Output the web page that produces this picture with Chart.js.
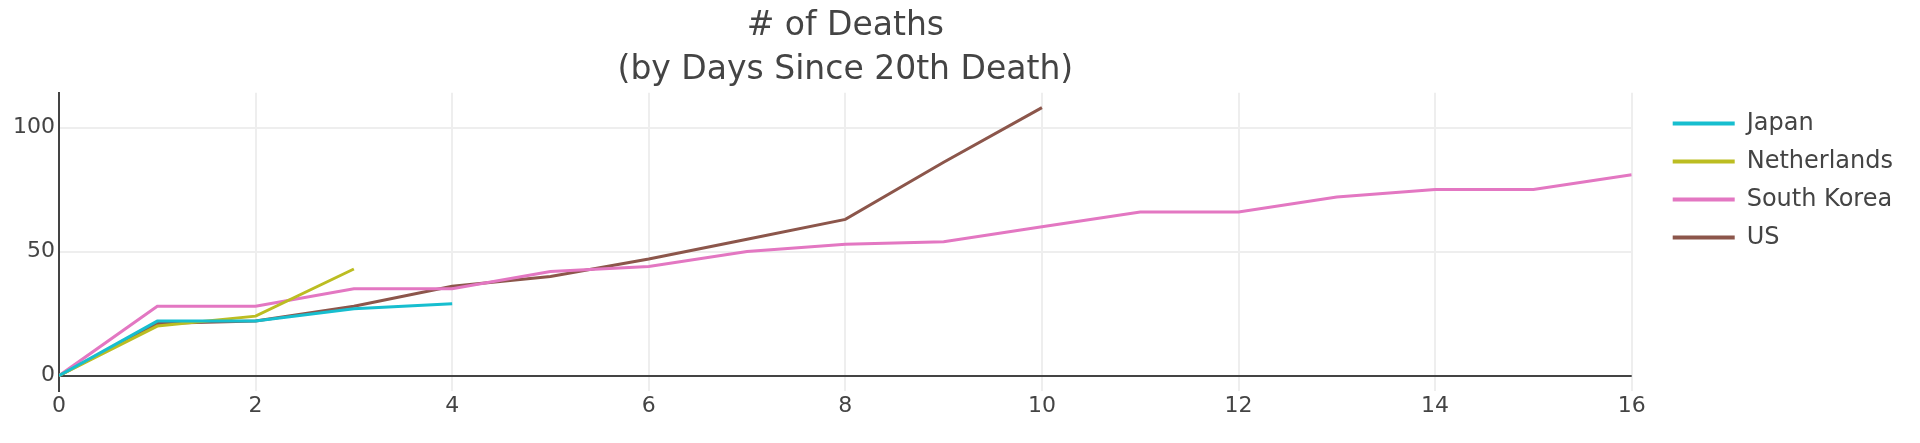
<!DOCTYPE html>
<html>
<head>
<meta charset="utf-8">
<script src="https://cdn.jsdelivr.net/npm/chart.js@4"></script>
<style>
  body { margin: 0; background: #fff; }
  .chart-box { width: 1920px; height: 443px; }
</style>
</head>
<body>
<div class="chart-box"><canvas id="chart-deaths"></canvas></div>
<script>
const days = [0, 1, 2, 3, 4, 5, 6, 7, 8, 9, 10, 11, 12, 13, 14, 15, 16];
const japan = [0, 22, 22, 27, 29];
const netherlands = [0, 20, 24, 43];
const southKorea = [0, 28, 28, 35, 35, 42, 44, 50, 53, 54, 60, 66, 66, 72, 75, 75, 81];
const us = [0, 21, 22, 28, 36, 40, 47, 55, 63, 86, 108];
const xTicks = [0, 2, 4, 6, 8, 10, 12, 14, 16];
const yTicks = [0, 50, 100];

const textColor = "#444";
const fontFamily = "'DejaVu Sans', Verdana, sans-serif";

function toPoints(values) {
    return values.map((v, i) => ({ x: days[i], y: v }));
}

const series = [
    { label: "Japan", values: japan, color: "#17becf" },
    { label: "Netherlands", values: netherlands, color: "#bcbd22" },
    { label: "South Korea", values: southKorea, color: "#e377c2" },
    { label: "US", values: us, color: "#8c564b" },
];

const ctx = document.getElementById("chart-deaths").getContext("2d");
new Chart(ctx, {
    type: "line",
    data: {
        datasets: series.map((s) => ({
            label: s.label,
            data: toPoints(s.values),
            borderColor: s.color,
            backgroundColor: s.color,
            borderWidth: 3,
            pointRadius: 0,
            tension: 0,
        })),
    },
    options: {
        responsive: true,
        maintainAspectRatio: false,
        animation: false,
        layout: { padding: { left: 0, right: 17, top: 0, bottom: 22 } },
        plugins: {
            title: {
                display: true,
                fullSize: false,
                text: ["# of Deaths", "(by Days Since 20th Death)"],
                color: textColor,
                font: { family: fontFamily, size: 33, weight: "normal", lineHeight: 1.345 },
                padding: { top: 4, bottom: 0 },
            },
            legend: {
                position: "right",
                align: "start",
                fullSize: false,
                // blank title just pushes the items down a little
                title: { display: true, text: " ", padding: 0, font: { size: 4 } },
                labels: {
                    color: textColor,
                    font: { family: fontFamily, size: 24 },
                    boxWidth: 62,
                    boxHeight: 4,
                    padding: 14,
                    generateLabels: (chart) =>
                        Chart.defaults.plugins.legend.labels
                            .generateLabels(chart)
                            .map((item) => ({ ...item, fillStyle: item.strokeStyle, lineWidth: 0 })),
                },
            },
            tooltip: { enabled: false },
        },
        scales: {
            x: {
                type: "linear",
                min: 0,
                max: 16,
                afterBuildTicks: (scale) => {
                    scale.ticks = xTicks.map((v) => ({ value: v }));
                },
                grid: { color: "#eee", lineWidth: 2, drawTicks: false },
                border: { display: false },
                ticks: {
                    color: textColor,
                    font: { family: fontFamily, size: 22 },
                    padding: 2,
                    maxRotation: 0,
                },
            },
            y: {
                type: "linear",
                min: -6,
                max: 114,
                afterBuildTicks: (scale) => {
                    scale.ticks = yTicks.map((v) => ({ value: v }));
                },
                afterFit: (scale) => {
                    scale.width = 59;
                },
                grid: {
                    color: (c) => (c.tick && c.tick.value === 0 ? "#444" : "#eee"),
                    lineWidth: 2,
                    drawTicks: false,
                },
                border: { display: true, color: "#444", width: 2 },
                ticks: {
                    color: textColor,
                    font: { family: fontFamily, size: 22 },
                    padding: 4,
                },
            },
            // empty axis, only keeps the gap between the plot and the legend
            spacer: {
                type: "linear",
                position: "right",
                display: true,
                grid: { display: false },
                border: { display: false },
                ticks: { display: false },
                afterFit: (scale) => {
                    scale.width = 27;
                },
            },
        },
    },
});
</script>
</body>
</html>
